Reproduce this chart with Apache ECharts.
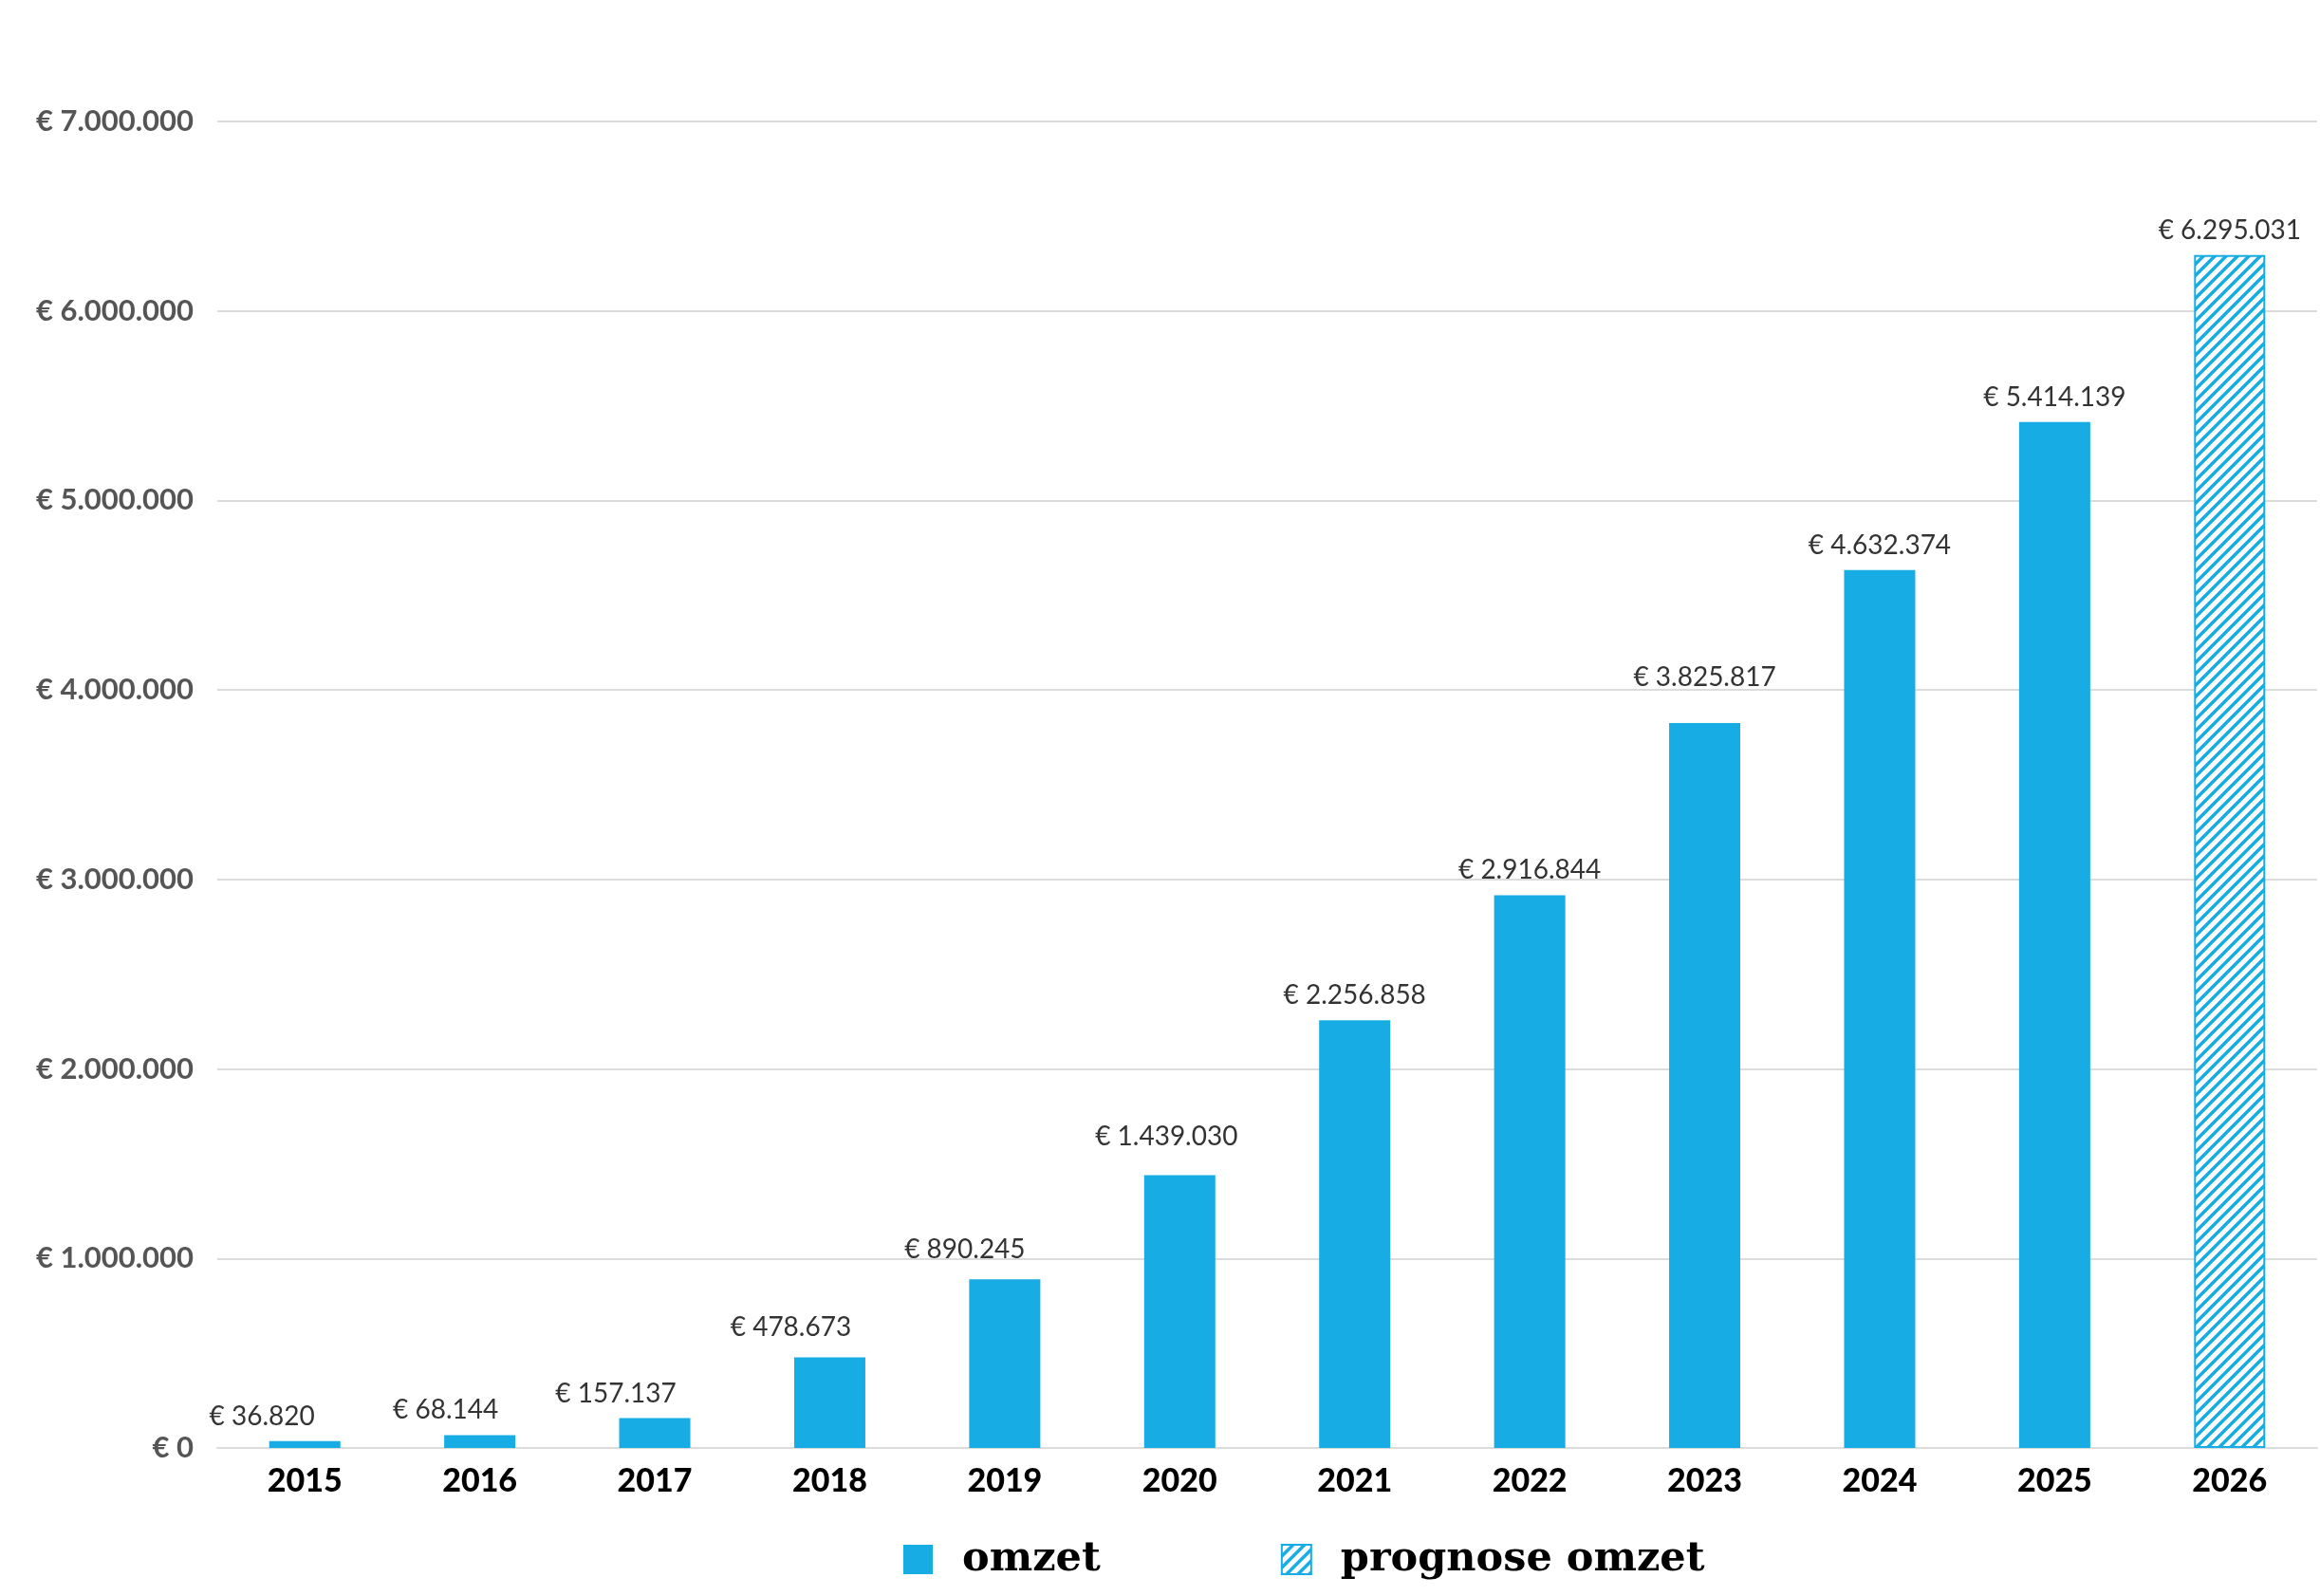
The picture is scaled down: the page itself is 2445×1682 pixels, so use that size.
<!DOCTYPE html>
<html>
<head>
<meta charset="utf-8">
<script src="https://cdn.jsdelivr.net/npm/echarts@6/dist/echarts.min.js"></script>
<style>
  html, body { margin: 0; padding: 0; background: #fff; }
  #chart { width: 2445px; height: 1682px; }
</style>
</head>
<body>
<div id="chart"></div>
<script>
// data
var years = ['2015', '2016', '2017', '2018', '2019', '2020', '2021', '2022', '2023', '2024', '2025', '2026'];
var omzet = [36820, 68144, 157137, 478673, 890245, 1439030, 2256858, 2916844, 3825817, 4632374, 5414139, '-'];
var prognose = ['-', '-', '-', '-', '-', '-', '-', '-', '-', '-', '-', 6295031];
var yTicks = [0, 1000000, 2000000, 3000000, 4000000, 5000000, 6000000, 7000000];

// handmatig verschoven labels (zoals in het origineel)
var labelDx = [-45, -36, -41, -41, -42, -14, 0, 0, 0, 0, 0, 0];
var labelDy = [0, 0, 0, -5, -5, -15, 0, 0, -22, 0, 0, 0];

var blue = '#17ace3';

// gestreept patroon voor prognose
function stripes() {
    var s = 12;
    var c = document.createElement('canvas');
    c.width = s; c.height = s;
    var ctx = c.getContext('2d');
    ctx.fillStyle = '#fff';
    ctx.fillRect(0, 0, s, s);
    ctx.strokeStyle = blue;
    ctx.lineWidth = 3.5;
    ctx.beginPath();
    ctx.moveTo(-2, s + 2); ctx.lineTo(s + 2, -2);
    ctx.moveTo(-2, 2); ctx.lineTo(2, -2);
    ctx.moveTo(s - 2, s + 2); ctx.lineTo(s + 2, s - 2);
    ctx.stroke();
    return c;
}

function euro(v) {
    return '€ ' + String(Math.round(v)).replace(/\B(?=(\d{3})+(?!\d))/g, '.');
}

function withLabels(values) {
    return values.map(function (v, i) {
        if (v === '-') return v;
        return { value: v, label: { offset: [labelDx[i], labelDy[i]] } };
    });
}

var chart = echarts.init(document.getElementById('chart'));

var valueLabel = {
    show: true,
    position: 'top',
    distance: 12,
    color: '#333',
    fontFamily: 'Lato',
    fontSize: 28,
    formatter: function (p) { return euro(p.value); }
};

var option = {
    backgroundColor: '#fff',
    animation: false,
    grid: { left: 229, right: 3, top: 128, bottom: 156 },
    legend: {
        left: 947,
        top: 1617,
        itemWidth: 31,
        itemHeight: 31,
        itemGap: 190,
        icon: 'rect',
        textStyle: {
            color: '#000',
            fontFamily: 'DejaVu Serif',
            fontWeight: 'bold',
            fontSize: 43,
            padding: [0, 0, 0, 26]
        },
        data: ['omzet', 'prognose omzet']
    },
    xAxis: {
        type: 'category',
        data: years,
        axisTick: { show: false },
        axisLine: { lineStyle: { color: '#dcdcdc', width: 2 } },
        axisLabel: {
            color: '#000',
            fontFamily: 'Lato',
            fontWeight: 900,
            fontSize: 34,
            margin: 18
        }
    },
    yAxis: {
        type: 'value',
        min: yTicks[0],
        max: yTicks[yTicks.length - 1],
        interval: 1000000,
        axisLine: { show: false },
        axisTick: { show: false },
        splitLine: { lineStyle: { color: '#dcdcdc', width: 2 } },
        axisLabel: {
            color: '#555',
            fontFamily: 'Lato',
            fontWeight: 'bold',
            fontSize: 31,
            margin: 25,
            formatter: function (v) { return euro(v); }
        }
    },
    series: [
        {
            name: 'omzet',
            type: 'bar',
            data: withLabels(omzet),
            barWidth: 75,
            barGap: '-100%',
            itemStyle: { color: blue },
            label: valueLabel
        },
        {
            name: 'prognose omzet',
            type: 'bar',
            data: withLabels(prognose),
            barWidth: 75,
            itemStyle: {
                color: { image: stripes(), repeat: 'repeat' },
                borderColor: blue,
                borderWidth: 2
            },
            label: valueLabel
        }
    ]
};

chart.setOption(option);
</script>
</body>
</html>
